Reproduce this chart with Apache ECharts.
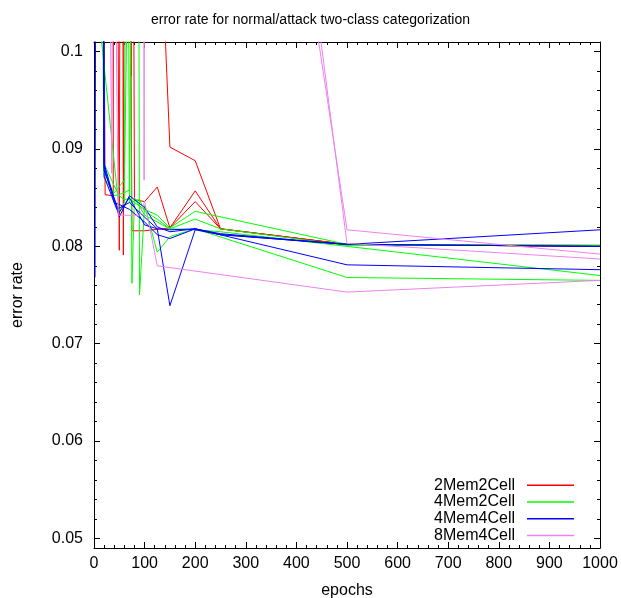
<!DOCTYPE html>
<html><head><meta charset="utf-8">
<script src="https://cdn.jsdelivr.net/npm/echarts@6/dist/echarts.min.js"></script>
<style>html,body{margin:0;padding:0;background:#fff}#c{width:621px;height:598px}</style>
</head><body><div id="c"></div>
<script>
// ---- tick values ----
const yMajorTicks = [0.05, 0.06, 0.07, 0.08, 0.09, 0.1];
const yMinorTicks = [0.05, 0.052, 0.054, 0.056, 0.058, 0.06, 0.062, 0.064, 0.066, 0.068,
  0.07, 0.072, 0.074, 0.076, 0.078, 0.08, 0.082, 0.084, 0.086, 0.088,
  0.09, 0.092, 0.094, 0.096, 0.098, 0.1];

// ---- series names ----
const seriesNames = ['2Mem2Cell', '4Mem2Cell', '4Mem4Cell', '8Mem4Cell'];

// ---- 2Mem2Cell runs ----
const red1X = [1, 50, 100, 125, 150, 200, 250, 500, 1000];
const red1Y = [0.5, 0.35, 0.2, 0.121, 0.0902, 0.0888, 0.0818, 0.0802, 0.0800];
const red2X = [10, 22, 38, 40, 56, 58, 62, 70, 75, 100, 150, 200, 250, 500, 1000];
const red2Y = [0.2, 0.0853, 0.0852, 0.2, 0.14, 0.0791, 0.18, 0.13, 0.0816, 0.0816, 0.0819, 0.0846, 0.0818, 0.0802, 0.0801];
const red3X = [30, 45, 50, 53, 70, 73, 76, 80, 100, 125, 150, 200, 250, 500, 1000];
const red3Y = [0.2, 0.13, 0.0796, 0.15, 0.14, 0.0975, 0.14, 0.0848, 0.0846, 0.0861, 0.0819, 0.0857, 0.0818, 0.0802, 0.0800];

// ---- 4Mem2Cell runs ----
const green1X = [10, 20, 40, 50, 60, 70, 80, 100, 125, 150, 200, 500, 1000];
const green1Y = [0.2, 0.0885, 0.0862, 0.0852, 0.0848, 0.0849, 0.0845, 0.0838, 0.0832, 0.0819, 0.0836, 0.0802, 0.0801];
const green2X = [10, 20, 40, 60, 70, 75, 80, 100, 150, 200, 250, 500, 1000];
const green2Y = [0.15, 0.087, 0.0855, 0.0868, 0.12, 0.0762, 0.085, 0.0832, 0.0818, 0.0817, 0.0815, 0.0800, 0.0770];
const green3X = [5, 20, 40, 60, 70, 85, 90, 100, 125, 150, 200, 500, 1000];
const green3Y = [0.25, 0.0878, 0.0852, 0.0855, 0.0858, 0.2, 0.075, 0.0842, 0.0794, 0.0810, 0.0818, 0.0768, 0.0765];
const green4X = [1, 50, 60, 65, 70, 90, 100, 125, 150, 200, 250, 500, 1000];
const green4Y = [0.108, 0.0836, 0.0845, 0.15, 0.0845, 0.0848, 0.0836, 0.0828, 0.0818, 0.0828, 0.0818, 0.0801, 0.0801];

// ---- 4Mem4Cell runs ----
const blue1X = [2, 10, 20, 50, 70, 100, 125, 150, 200, 250, 500, 1000];
const blue1Y = [0.0768, 0.3, 0.0885, 0.0830, 0.0852, 0.0840, 0.0820, 0.0815, 0.0818, 0.0812, 0.0802, 0.0800];
const blue2X = [5, 20, 50, 70, 100, 125, 150, 200, 250, 500, 1000];
const blue2Y = [0.3, 0.0878, 0.0835, 0.0850, 0.0822, 0.0818, 0.0817, 0.0818, 0.0813, 0.0802, 0.0817];
const blue3X = [5, 20, 45, 70, 100, 125, 150, 200, 250, 500, 1000];
const blue3Y = [0.3, 0.0872, 0.0838, 0.0845, 0.0830, 0.0818, 0.0739, 0.0817, 0.0812, 0.0802, 0.0800];
const blue4X = [5, 20, 40, 50, 70, 100, 125, 150, 200, 500, 1000];
const blue4Y = [0.3, 0.0882, 0.0845, 0.0843, 0.0838, 0.0825, 0.0812, 0.0808, 0.0818, 0.0781, 0.0776];

// ---- 8Mem4Cell runs ----
const pink1X = [1, 97, 99, 101, 250, 500, 1000];
const pink1Y = [0.5, 0.3, 0.0868, 0.3, 0.168, 0.0817, 0.0792];
const pink2X = [1, 30, 35, 40, 250, 500, 1000];
const pink2Y = [0.4, 0.12, 0.0875, 0.15, 0.181, 0.0803, 0.0787];
const pink3X = [1, 40, 48, 90, 100, 125, 500, 1000];
const pink3Y = [0.3, 0.12, 0.0832, 0.0832, 0.0846, 0.0780, 0.0753, 0.0765];

const colors = {'2Mem2Cell': '#ff0000', '4Mem2Cell': '#00ff00', '4Mem4Cell': '#0000ff', '8Mem4Cell': '#ee82ee'};

const runs = [
  ['2Mem2Cell', red1X, red1Y], ['2Mem2Cell', red2X, red2Y], ['2Mem2Cell', red3X, red3Y],
  ['4Mem2Cell', green1X, green1Y], ['4Mem2Cell', green2X, green2Y], ['4Mem2Cell', green3X, green3Y], ['4Mem2Cell', green4X, green4Y],
  ['4Mem4Cell', blue1X, blue1Y], ['4Mem4Cell', blue2X, blue2Y], ['4Mem4Cell', blue3X, blue3Y], ['4Mem4Cell', blue4X, blue4Y],
  ['8Mem4Cell', pink1X, pink1Y], ['8Mem4Cell', pink2X, pink2Y], ['8Mem4Cell', pink3X, pink3Y]
];

const FONT = 'Liberation Sans';
const black = '#000';

const series = runs.map(([name, xs, ys]) => ({
  type: 'line', name: name,
  data: xs.map((x, i) => [x, ys[i]]),
  showSymbol: false, symbol: 'none',
  lineStyle: {color: colors[name], width: 1},
  itemStyle: {color: colors[name]},
  clip: true, silent: true, animation: false,
  xAxisIndex: 0, yAxisIndex: 0
}));

function xAx(pos, showLabel) {
  return {
    type: 'value', min: 0, max: 1000, interval: 100, position: pos,
    axisLine: {show: true, onZero: false, lineStyle: {color: black, width: 1}},
    axisTick: {show: true, inside: true, length: 6, lineStyle: {color: black}},
    minorTick: {show: true, splitNumber: 5, length: 3, lineStyle: {color: black}},
    splitLine: {show: false}, minorSplitLine: {show: false},
    axisLabel: {show: showLabel, margin: 8, fontFamily: FONT, fontSize: 16, color: black,
      formatter: v => String(v)},
    name: showLabel ? 'epochs' : '', nameLocation: 'middle', nameGap: 35,
    nameTextStyle: {fontFamily: FONT, fontSize: 16, color: black}
  };
}
function yAx(pos, ticks, len, showLabel, showLine) {
  return {
    type: 'value', min: 0.049, max: 0.101, position: pos,
    axisLine: {show: showLine, onZero: false, lineStyle: {color: black, width: 1}},
    axisTick: {show: true, inside: true, length: len, customValues: ticks, lineStyle: {color: black}},
    splitLine: {show: false},
    axisLabel: {show: showLabel, customValues: yMajorTicks, margin: 11, fontFamily: FONT, fontSize: 16, color: black,
      formatter: v => String(v)},
    name: showLabel ? 'error rate' : '', nameLocation: 'middle', nameGap: 68,
    nameTextStyle: {fontFamily: FONT, fontSize: 16, color: black}
  };
}

const chart = echarts.init(document.getElementById('c'), null, {renderer: 'canvas'});
chart.setOption({
  animation: false,
  backgroundColor: '#fff',
  title: {text: 'error rate for normal/attack two-class categorization', left: 'center', top: 8,
    textStyle: {fontFamily: FONT, fontSize: 14, fontWeight: 'normal', color: black}},
  grid: {left: 94, top: 42, width: 506, height: 506, containLabel: false, outerBoundsMode: 'none'},
  legend: {
    data: seriesNames, orient: 'vertical', right: 42, top: 472, align: 'right',
    icon: 'rect', itemWidth: 47, itemHeight: 1.5, itemGap: 0, selectedMode: false,
    textStyle: {fontFamily: FONT, fontSize: 16, color: black, lineHeight: 16.7, padding: [0, 7, 0, 0]}
  },
  xAxis: [xAx('bottom', true), xAx('top', false)],
  yAxis: [
    yAx('left', yMajorTicks, 6, true, true),
    yAx('right', yMajorTicks, 6, false, true),
    yAx('left', yMinorTicks, 3, false, false),
    yAx('right', yMinorTicks, 3, false, false)
  ],
  series: series
});
</script></body></html>
